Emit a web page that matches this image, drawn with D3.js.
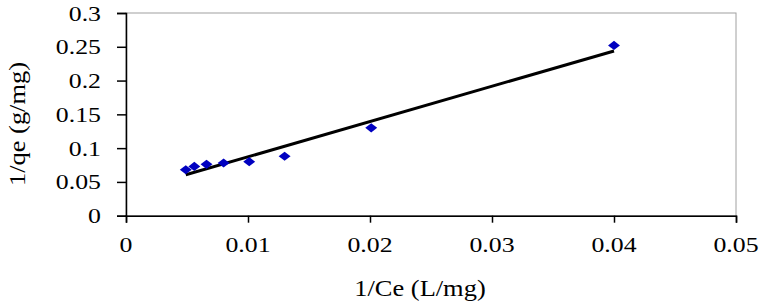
<!DOCTYPE html>
<html>
<head>
<meta charset="utf-8">
<script src="https://cdn.jsdelivr.net/npm/d3@7"></script>
<style>
  body { margin: 0; background: #fff; }
  text { font-family: "Liberation Serif", "Times New Roman", serif; fill: #000; }
</style>
</head>
<body>
<div id="chart"></div>
<script>
// data
const invCe = [0.0049, 0.0056, 0.0066, 0.0080, 0.0101, 0.0130, 0.0201, 0.0400];
const invQe = [0.068, 0.073, 0.076, 0.078, 0.080, 0.088, 0.130, 0.252];
const xTicks = [0, 0.01, 0.02, 0.03, 0.04, 0.05];
const yTicks = [0, 0.05, 0.1, 0.15, 0.2, 0.25, 0.3];

const width = 771, height = 302;
const plotL = 126, plotR = 736, plotT = 13, plotB = 215.7;

const x = d3.scaleLinear().domain([0, 0.05]).range([plotL, plotR]);
const y = d3.scaleLinear().domain([0, 0.3]).range([plotB, plotT]);

const svg = d3.select("#chart").append("svg")
  .attr("width", width)
  .attr("height", height);

// plot frame (light grey top/right)
svg.append("rect")
  .attr("x", plotL).attr("y", plotT)
  .attr("width", plotR - plotL).attr("height", plotB - plotT)
  .attr("fill", "none")
  .attr("stroke", "#a0a0a0")
  .attr("stroke-width", 1);

// axes: ticks only, labels drawn separately
svg.append("g")
  .attr("transform", `translate(${plotL},0)`)
  .call(d3.axisLeft(y).tickValues(yTicks).tickSize(9).tickFormat(""))
  .call(g => g.selectAll("line, path").attr("stroke", "#000").attr("stroke-width", 1.5));

svg.append("g")
  .attr("transform", `translate(0,${plotB})`)
  .call(d3.axisBottom(x).tickValues(xTicks).tickSize(7).tickSizeOuter(7).tickFormat(""))
  .call(g => g.selectAll("line, path").attr("stroke", "#000").attr("stroke-width", 1.5));

const fmt = d => d === 0 ? "0" : String(+d.toFixed(3));

// tick labels, slightly wide like the original
svg.append("g").selectAll("text")
  .data(yTicks)
  .join("text")
  .attr("transform", d => `translate(101,${y(d) + 7.5}) scale(1.2,1)`)
  .attr("text-anchor", "end")
  .attr("font-size", 21.5)
  .text(fmt);

svg.append("g").selectAll("text")
  .data(xTicks)
  .join("text")
  .attr("transform", d => `translate(${x(d)},252) scale(1.2,1)`)
  .attr("text-anchor", "middle")
  .attr("font-size", 21.5)
  .text(fmt);

// axis titles
svg.append("text")
  .attr("transform", "translate(420,296) scale(1.15,1)")
  .attr("text-anchor", "middle")
  .attr("font-size", 23)
  .text("1/Ce (L/mg)");

svg.append("text")
  .attr("transform", "translate(25,124) rotate(-90) scale(1.15,1)")
  .attr("text-anchor", "middle")
  .attr("font-size", 23)
  .text("1/qe (g/mg)");

// least-squares trend line
const mx = d3.mean(invCe), my = d3.mean(invQe);
const slope = d3.sum(invCe, (v, i) => (v - mx) * (invQe[i] - my)) / d3.sum(invCe, v => (v - mx) ** 2);
const icpt = my - slope * mx;
const xr = d3.extent(invCe);

svg.append("line")
  .attr("x1", x(xr[0])).attr("y1", y(icpt + slope * xr[0]))
  .attr("x2", x(xr[1])).attr("y2", y(icpt + slope * xr[1]))
  .attr("stroke", "#000")
  .attr("stroke-width", 3);

// diamond markers
const diamond = d3.symbol().type(d3.symbolDiamond2).size(72);
svg.append("g").selectAll("path")
  .data(invCe)
  .join("path")
  .attr("transform", (d, i) => `translate(${x(d)},${y(invQe[i])}) scale(1.12,0.86)`)
  .attr("d", diamond)
  .attr("fill", "#0000c0");
</script>
</body>
</html>
